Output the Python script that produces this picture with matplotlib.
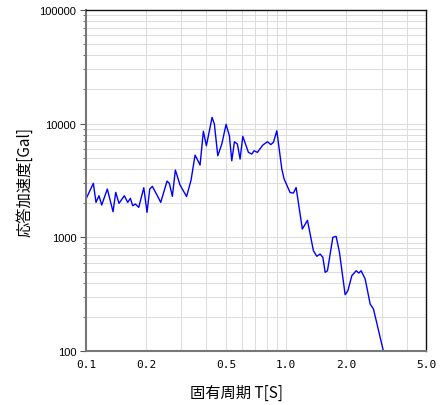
#!/usr/bin/env python3
# -*- coding: utf-8 -*-
"""
response spectrum, log-log plot
"""

import numpy as np
import matplotlib
matplotlib.use( "Agg" )
import matplotlib.pyplot as plt
from matplotlib.ticker import FixedLocator, NullFormatter, LogLocator


# data
#______________________________________________________________________________
period = [ 0.1000, 0.1088, 0.1122, 0.1161, 0.1198, 0.1278, 0.1365, 0.1408,
           0.1462, 0.1554, 0.1616, 0.1666, 0.1712, 0.1764, 0.1835, 0.1944,
           0.2018, 0.2082, 0.2146, 0.2273, 0.2363, 0.2541, 0.2609, 0.2701,
           0.2796, 0.2951, 0.3181, 0.3350, 0.3508, 0.3715, 0.3859, 0.3995,
           0.4266, 0.4380, 0.4555, 0.4770, 0.5012, 0.5206, 0.5352, 0.5515,
           0.5708, 0.5888, 0.6074, 0.6479, 0.6738, 0.6918, 0.7186, 0.7646,
           0.8064, 0.8385, 0.8640, 0.8985, 0.9517, 0.9772, 1.047,  1.088,
           1.122,  1.205,  1.278,  1.369,  1.424,  1.479,  1.526,  1.567,
           1.609,  1.712,  1.778,  1.847,  1.972,  2.035,  2.130,  2.239,
           2.309,  2.371,  2.483,  2.630,  2.732,  3.070 ]

accel  = [ 2172,  2985,  2031,  2322,  1924,  2660,  1680,  2488,
           1991,  2322,  2031,  2203,  1896,  1963,  1836,  2731,
           1659,  2660,  2809,  2322,  2031,  3127,  2985,  2294,
           3908,  2884,  2285,  3191,  5295,  4324,  8575,  6391,
           11360, 9920,  5221,  6615,  9860,  7826,  4718,  6930,
           6615,  4884,  7731,  5593,  5403,  5775,  5593,  6483,
           6930,  6550,  6847,  8660,  3988,  3257,  2478,  2453,
           2742,  1183,  1411,  762,   681,   713,   667,   492,
           508,   1000,  1020,  738,   313,   339,   460,   508,
           485,   508,   430,   259,   234,   98 ]

xticks      = [ 0.1, 0.2, 0.5, 1.0, 2.0, 5.0 ]
xticklabels = [ "0.1", "0.2", "0.5", "1.0", "2.0", "5.0" ]
yticks      = [ 100, 1000, 10000, 100000 ]
yticklabels = [ "100", "1000", "10000", "100000" ]

xlabel = "固有周期 T[S]"
ylabel = "応答加速度[Gal]"


# figure
#______________________________________________________________________________
fig = plt.figure( figsize = ( 4.48, 4.06 ), dpi = 100 )
ax  = fig.add_axes( [ 86/448, 54/406, 340/448, 341/406 ] )

ax.plot( period, accel, color = "#0000ff", linewidth = 1.0 )

ax.set_xscale( "log" )
ax.set_yscale( "log" )
ax.set_xlim( 0.1, 5.0 )
ax.set_ylim( 100, 100000 )


# ticks and grid
#______________________________________________________________________________
ax.xaxis.set_major_locator( FixedLocator( xticks ) )
ax.xaxis.set_minor_locator( FixedLocator( [ 0.3, 0.4, 0.6, 0.7, 0.8, 0.9, 3.0, 4.0 ] ) )
ax.xaxis.set_minor_formatter( NullFormatter() )
ax.set_xticks( xticks )
ax.set_xticklabels( xticklabels, family = "DejaVu Sans Mono", fontsize = 8 )

ax.yaxis.set_major_locator( FixedLocator( yticks ) )
ax.yaxis.set_minor_locator( LogLocator( base = 10, subs = np.arange( 2, 10 ) ) )
ax.yaxis.set_minor_formatter( NullFormatter() )
ax.set_yticks( yticks )
ax.set_yticklabels( yticklabels, family = "Liberation Sans", fontsize = 8 )

ax.tick_params( axis = "x", which = "both", length = 0, pad = 6 )
ax.tick_params( axis = "y", which = "major", length = 4, width = 0.8,
                color = "#555555", pad = 3 )
ax.tick_params( axis = "y", which = "minor", length = 2, width = 0.6,
                color = "#555555" )

ax.grid( True, which = "both", color = "#dcdcdc", linewidth = 0.7 )
ax.set_axisbelow( True )

for side in [ "left", "bottom" ]:
    ax.spines[ side ].set_color( "#777777" )
    ax.spines[ side ].set_linewidth( 1.5 )
for side in [ "top", "right" ]:
    ax.spines[ side ].set_color( "#111111" )
    ax.spines[ side ].set_linewidth( 1.0 )


# labels
#______________________________________________________________________________
ax.set_xlabel( xlabel, family = [ "Noto Sans CJK JP", "DejaVu Sans" ],
               fontsize = 11, va = "center" )
ax.set_ylabel( ylabel, family = [ "Noto Sans CJK JP", "DejaVu Sans" ],
               fontsize = 11, va = "center" )
ax.xaxis.set_label_coords( ( 236 - 86 )/340, -( 393 - 352 )/341 )
ax.yaxis.set_label_coords( -( 86 - 25 )/340, ( 352 - 182 )/341 )

fig.savefig( "out.png", dpi = 100 )
